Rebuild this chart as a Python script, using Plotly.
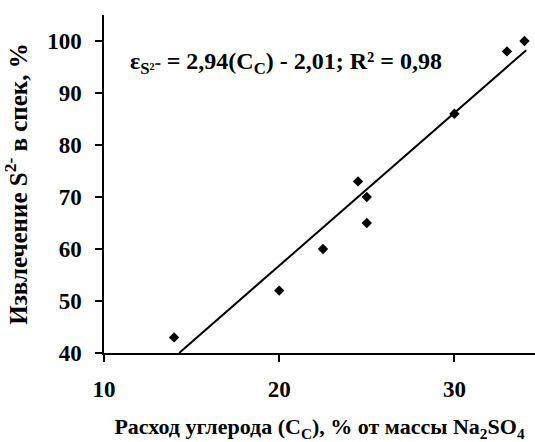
import plotly.graph_objects as go

# Data
carbon = [14, 20, 22.5, 24.5, 25, 25, 30, 33, 34]          # C_C, % of Na2SO4 mass
recovery = [43, 52, 60, 73, 70, 65, 86, 98, 100]           # S2- recovery, %

# Trend line from the equation shown on the chart
slope = 2.94
intercept = -2.01
line_x_range = [(40 - intercept) / slope, 34.1]
line_y = [slope * x + intercept for x in line_x_range]

x_ticks = [10, 20, 30]
y_ticks = [40, 50, 60, 70, 80, 90, 100]

FONT = "Liberation Serif"

fig = go.Figure()
fig.add_trace(go.Scatter(
    x=line_x_range, y=line_y, mode="lines",
    line=dict(color="black", width=2), showlegend=False, hoverinfo="skip",
    cliponaxis=False))
fig.add_trace(go.Scatter(
    x=carbon, y=recovery, mode="markers",
    marker=dict(symbol="diamond", size=8, color="black"), showlegend=False,
    cliponaxis=False))

fig.add_annotation(
    x=11.35, y=95.8, xref="x", yref="y", xanchor="left", yanchor="middle",
    text="<b>ε<sub>S²⁻</sub> = 2,94(C<sub>C</sub>) - 2,01; R² = 0,98</b>",
    showarrow=False,
    font=dict(family=FONT, size=24, color="black"))

fig.update_layout(
    width=535, height=442,
    margin=dict(l=104, r=0, t=15, b=89, autoexpand=False),
    paper_bgcolor="white", plot_bgcolor="white",
    font=dict(family=FONT, color="black"),
)
fig.update_xaxes(
    range=[10, 34.6], tickvals=x_ticks, ticktext=[f"<b>{v}</b>" for v in x_ticks],
    showgrid=False, zeroline=False, automargin=False,
    showline=True, linecolor="black", linewidth=1.5,
    ticks="outside", ticklen=7, tickwidth=1.5, tickcolor="black",
    ticklabelstandoff=8,
    tickfont=dict(family=FONT, size=23, color="black"),
    title=dict(text="<b>Расход углерода (C<sub>C</sub>), % от массы Na<sub>2</sub>SO<sub>4</sub></b>",
               font=dict(family=FONT, size=22, color="black"),
               standoff=20),
)
fig.update_yaxes(
    range=[40, 105], tickvals=y_ticks, ticktext=[f"<b>{v}</b>" for v in y_ticks],
    showgrid=False, zeroline=False, automargin=False,
    showline=True, linecolor="black", linewidth=1.5,
    ticks="outside", ticklen=7, tickwidth=1.5, tickcolor="black",
    ticklabelstandoff=9,
    tickfont=dict(family=FONT, size=23, color="black"),
    title=dict(text="<b>Извлечение S<sup>2-</sup> в спек, %</b>",
               font=dict(family=FONT, size=25, color="black"),
               standoff=18),
)

fig.write_html("out.html", config={"displayModeBar": False})

# remove the default page margin so the figure sits at the window's corner
with open("out.html", encoding="utf-8") as f:
    html = f.read()
html = html.replace("<body>", '<body style="margin:0;padding:0;overflow:hidden">', 1)
with open("out.html", "w", encoding="utf-8") as f:
    f.write(html)
